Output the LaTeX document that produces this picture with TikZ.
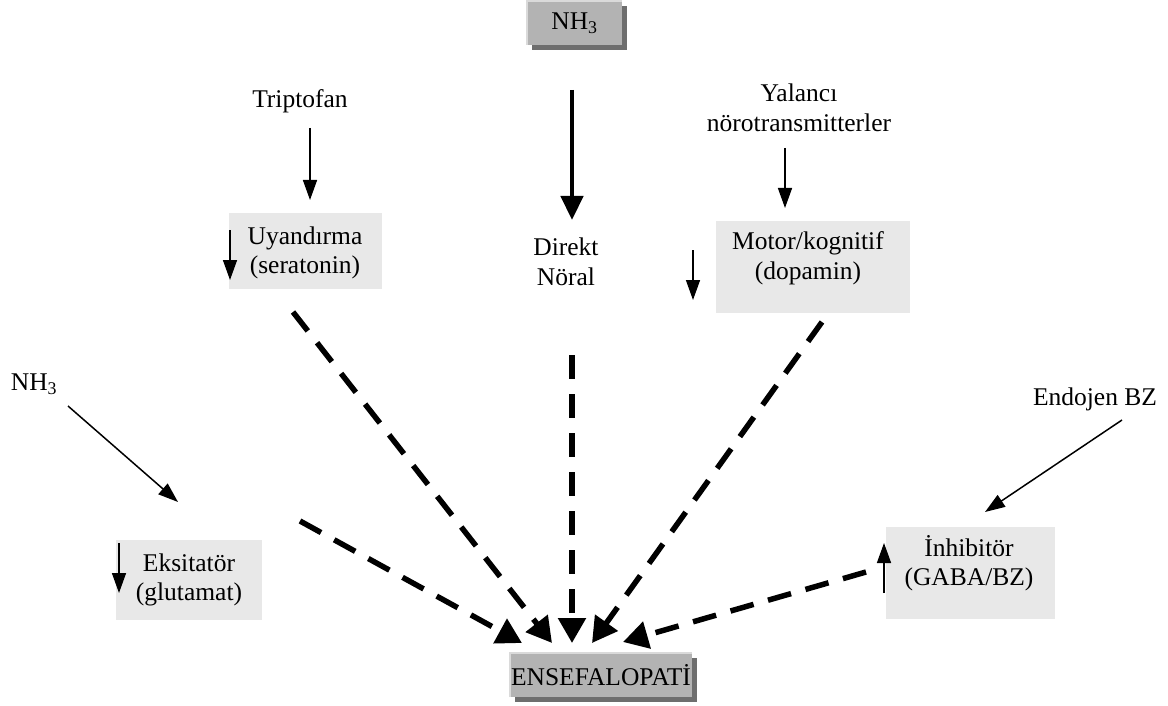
\documentclass[tikz,border=0pt]{standalone}
\usepackage{fontspec}
\setmainfont{Liberation Serif}
\usetikzlibrary{arrows.meta}
\definecolor{boxlight}{HTML}{E8E8E8}
\definecolor{boxgray}{HTML}{B3B3B3}
\definecolor{shadowgray}{HTML}{6E6E6E}
\definecolor{bevel}{HTML}{DADADA}
\tikzset{
  lbl/.style={font=\fontsize{25.5}{29.5}\selectfont, align=center, inner sep=0pt},
  lightbox/.style={fill=boxlight, draw=none, inner sep=0pt},
  graybox/.style={fill=boxgray, draw=none, inner sep=0pt},
  thinarrow/.style={line width=1.5pt, -{Triangle[length=20pt,width=14pt]}},
  thickarrow/.style={line width=4.5pt, -{Triangle[length=24pt,width=22pt]}},
  dasharrow/.style={line width=5.5pt, dash pattern=on 24pt off 15pt, -{Triangle[length=25pt,width=27pt]}}
}
\begin{document}
\begin{tikzpicture}[x=1pt,y=-1pt]
\useasboundingbox (0,0) rectangle (1168,706);
% top NH3 box
\fill[shadowgray] (532,6) rectangle (627,50);
\node[graybox, minimum width=95pt, minimum height=44pt] (nhtop) at (574.5,23) {};
\draw[bevel, line width=2pt] (527,45) -- (527,1) -- (622,1);
\node[lbl] at (nhtop.center) {NH\textsubscript{3}};
% ENSEFALOPATI box
\fill[shadowgray] (515,658) rectangle (697,702);
\node[graybox, minimum width=182pt, minimum height=44pt] (ens) at (601,675) {};
\draw[bevel, line width=2pt] (510,697) -- (510,653) -- (692,653);
\node[lbl] at (ens.center) {ENSEFALOPATİ};
% light boxes
\node[lightbox, minimum width=153pt, minimum height=76pt] (uya) at (305.5,251) {};
\node[lbl] (uyat) at (305,253) {Uyandırma\\(seratonin)};
\node[lightbox, minimum width=194pt, minimum height=92pt] (mot) at (813,267) {};
\node[lbl] (mott) at (808,258) {Motor/kognitif\\(dopamin)};
\node[lightbox, minimum width=146pt, minimum height=80pt] (eks) at (189,580) {};
\node[lbl] (ekst) at (189,580) {Eksitatör\\(glutamat)};
\node[lightbox, minimum width=169pt, minimum height=92pt] (inh) at (970.5,573) {};
\node[lbl] (inht) at (969,563) {İnhibitör\\(GABA/BZ)};
% plain labels
\node[lbl] (trip) at (300,101) {Triptofan};
\node[lbl] (yal) at (799,108) {Yalancı\\nörotransmitterler};
\node[lbl] (dir) at (566,262) {Direkt\\Nöral};
\node[lbl] (nhl) at (34,384) {NH\textsubscript{3}};
\node[lbl] (endo) at (1095,399) {Endojen BZ};
% coordinates
\coordinate (t0) at (310,128); \coordinate (t1) at (310,200);
\coordinate (y0) at (785,148); \coordinate (y1) at (785,208);
\coordinate (c0) at (572,90);  \coordinate (c1) at (572,220);
\coordinate (n0) at (68,406);  \coordinate (n1) at (178,502);
\coordinate (b0) at (1122,420);\coordinate (b1) at (985,512);
\coordinate (su0) at (230,230); \coordinate (su1) at (230,280);
\coordinate (sm0) at (693,250); \coordinate (sm1) at (693,300);
\coordinate (se0) at (119,543); \coordinate (se1) at (119,593);
\coordinate (si0) at (884,593); \coordinate (si1) at (884,543);
\coordinate (du) at (293,312);  \coordinate (eu) at (552,643);
\coordinate (dc) at (572,355);  \coordinate (ec) at (572,643);
\coordinate (dm) at (822,322);  \coordinate (em) at (592,643);
\coordinate (de) at (300,521);  \coordinate (ee) at (522,643);
\coordinate (di) at (866,572);  \coordinate (ei) at (623,642);
% thin arrows
\draw[thinarrow] (t0) -- (t1);
\draw[thinarrow] (y0) -- (y1);
\draw[thinarrow] (n0) -- (n1);
\draw[thinarrow] (b0) -- (b1);
\draw[thinarrow] (su0) -- (su1);
\draw[thinarrow] (sm0) -- (sm1);
\draw[thinarrow] (se0) -- (se1);
\draw[thinarrow] (si0) -- (si1);
% thick arrow
\draw[thickarrow] (c0) -- (c1);
% dashed arrows
\draw[dasharrow] (du) -- (eu);
\draw[dasharrow] (dc) -- (ec);
\draw[dasharrow] (dm) -- (em);
\draw[dasharrow] (de) -- (ee);
\draw[dasharrow] (di) -- (ei);
\end{tikzpicture}
\end{document}
